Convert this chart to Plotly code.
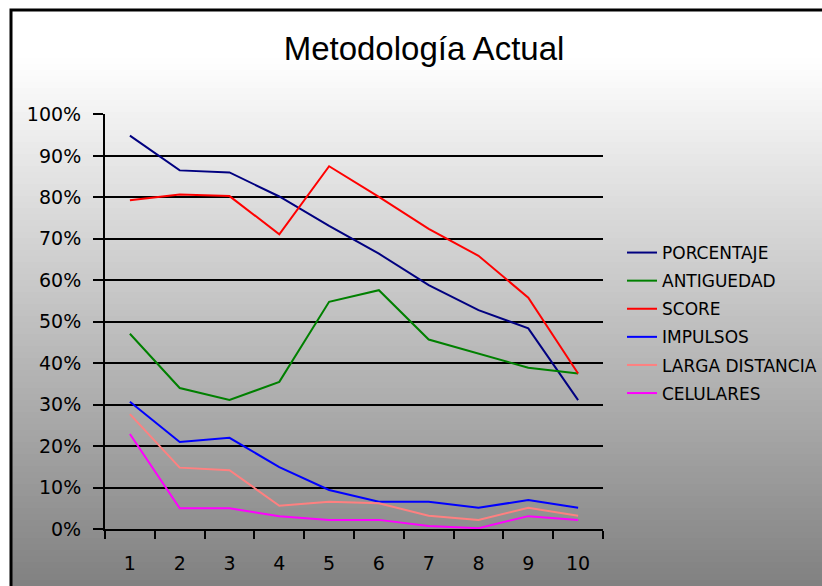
import plotly.graph_objects as go

categories = ["1", "2", "3", "4", "5", "6", "7", "8", "9", "10"]
porcentaje = [94.9, 86.5, 86.0, 80.2, 73.1, 66.4, 58.8, 52.8, 48.4, 31.1]
antiguedad = [47.1, 34.0, 31.1, 35.5, 54.8, 57.6, 45.7, 42.3, 38.9, 37.5]
score = [79.3, 80.7, 80.3, 71.1, 87.5, 80.1, 72.4, 65.9, 55.8, 37.5]
impulsos = [30.7, 21.0, 22.0, 14.9, 9.4, 6.6, 6.6, 5.1, 7.0, 5.1]
larga_distancia = [27.7, 14.8, 14.2, 5.6, 6.6, 6.2, 3.2, 2.2, 5.1, 3.2]
celulares = [22.9, 5.0, 5.0, 3.1, 2.2, 2.2, 0.7, 0.2, 3.1, 2.2]

series = [
    ("PORCENTAJE", porcentaje, "#000080"),
    ("ANTIGUEDAD", antiguedad, "#008000"),
    ("SCORE", score, "#FF0000"),
    ("IMPULSOS", impulsos, "#0000FF"),
    ("LARGA DISTANCIA", larga_distancia, "#FF8080"),
    ("CELULARES", celulares, "#FF00FF"),
]

W, H = 822, 586
L, R, T, B = 105, 603, 114, 529

fig = go.Figure()
for i, (name, vals, col) in enumerate(series):
    fig.add_trace(go.Scatter(
        x=categories, y=[v / 100 for v in vals], name=name, mode="lines",
        line=dict(color=col, width=2), legendgroup=f"g{i}",
    ))

def px2paper_x(px):
    return (px - L) / (R - L)

def px2paper_y(py):
    return (B - py) / (B - T)

shapes = []
# gradient background bands
step = 6
y = 10
while y < H:
    y2 = min(y + step, H + 2)
    mid = (y + y2) / 2
    c = int(round(min(255, 245 - 0.24 * (mid - 100))))
    shapes.append(dict(
        type="rect", xref="paper", yref="paper", layer="below",
        x0=px2paper_x(11), x1=px2paper_x(W + 5),
        y0=px2paper_y(y2), y1=px2paper_y(y),
        fillcolor=f"rgb({c},{c},{c})", line=dict(width=0),
    ))
    y = y2
# outer border
shapes.append(dict(
    type="rect", xref="paper", yref="paper", layer="below",
    x0=px2paper_x(11), x1=px2paper_x(W + 20),
    y0=px2paper_y(H + 20), y1=px2paper_y(10),
    fillcolor="rgba(0,0,0,0)", line=dict(color="black", width=3),
))

fig.update_layout(
    width=W, height=H,
    margin=dict(l=L, r=W - R, t=T, b=H - B, pad=0, autoexpand=False),
    paper_bgcolor="white", plot_bgcolor="rgba(0,0,0,0)",
    shapes=shapes,
    title=dict(text="Metodología Actual", x=424 / W, xref="container", xanchor="center",
               y=1 - 48 / H, yref="container", yanchor="middle",
               font=dict(family="Liberation Sans, Arial", size=33, color="black")),
    font=dict(family="DejaVu Sans", color="black"),
    showlegend=True,
    legend=dict(x=px2paper_x(622), xanchor="left", y=px2paper_y(235), yanchor="top",
                bgcolor="rgba(0,0,0,0)", borderwidth=0,
                font=dict(family="DejaVu Sans", size=17, color="black"),
                traceorder="grouped", tracegroupgap=3),
    xaxis=dict(type="category", range=[-0.5, 9.5], showgrid=False, showline=True,
               linecolor="black", linewidth=2,
               ticks="outside", tickson="boundaries", ticklen=8, tickwidth=2, tickcolor="black",
               tickfont=dict(family="DejaVu Sans", size=19, color="black"),
               ticklabelstandoff=16, zeroline=False, fixedrange=True),
    yaxis=dict(range=[0, 1.001], dtick=0.1, tick0=0, tickformat=".0%",
               showgrid=True, gridcolor="black", gridwidth=2,
               showline=True, linecolor="black", linewidth=2,
               ticks="outside", ticklen=10, tickwidth=2, tickcolor="black",
               tickfont=dict(family="DejaVu Sans", size=19, color="black"),
               ticklabelstandoff=8, zeroline=False, fixedrange=True),
)

fig.write_html("out.html")
